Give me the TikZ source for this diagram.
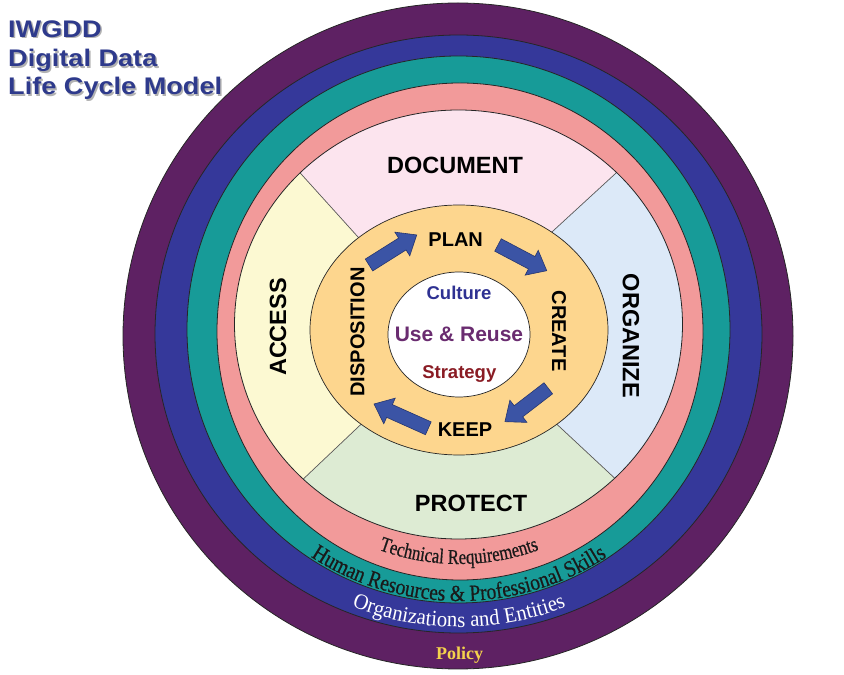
\documentclass[tikz,border=0pt]{standalone}
\usepackage{fontspec}
\setmainfont{Liberation Serif}
\setsansfont{Liberation Sans}
\newfontfamily\ringA[FakeStretch=0.8,FakeBold=0.6]{Liberation Serif}
\newfontfamily\ringB[FakeStretch=0.85,FakeBold=0.6]{Liberation Serif}
\newfontfamily\ringC[FakeStretch=0.94]{Liberation Serif}
\usetikzlibrary{decorations.text}
\definecolor{purpleband}{HTML}{5E2163}
\definecolor{blueband}{HTML}{35389A}
\definecolor{tealband}{HTML}{179B98}
\definecolor{pinkband}{HTML}{F29A9A}
\definecolor{docfill}{HTML}{FCE4EE}
\definecolor{orgfill}{HTML}{DCE9F8}
\definecolor{protfill}{HTML}{DDEBD3}
\definecolor{accfill}{HTML}{FCF9D2}
\definecolor{coreorange}{HTML}{FDD68E}
\definecolor{arrowblue}{HTML}{3B54A5}
\definecolor{arrowedge}{HTML}{26366F}
\definecolor{titleblue}{HTML}{2E3A8C}
\definecolor{culturec}{HTML}{2E3192}
\definecolor{reusec}{HTML}{6A2C70}
\definecolor{strategyc}{HTML}{8A1C24}
\definecolor{policyyellow}{HTML}{F4D24C}
\definecolor{ringtext}{HTML}{1A1A1A}
\newcommand{\techfont}{\color{ringtext}\ringA\fontsize{21}{21}\selectfont}
\newcommand{\hrfont}{\color{ringtext}\ringB\fontsize{23}{23}\selectfont}
\newcommand{\orgfont}{\color{white}\ringC\fontsize{22}{22}\selectfont}
\newcommand{\barrow}[3]{\draw[arrowbody, shift={(#1)}, rotate=#2] (0,-7) -- ({#3-17},-7) -- ({#3-17},-14) -- (#3,0) -- ({#3-17},14) -- ({#3-17},7) -- (0,7) -- cycle;}
\begin{document}
\begin{tikzpicture}[x=1pt,y=1pt,
  ring/.style={draw=black!85, line width=0.8pt},
  quad/.style={font=\sffamily\bfseries\fontsize{23.5}{24}\selectfont, text=black, inner sep=0pt},
  stage/.style={font=\sffamily\bfseries\fontsize{20}{20}\selectfont, text=black, inner sep=0pt},
  core/.style={font=\sffamily\bfseries\fontsize{18.5}{19}\selectfont, inner sep=0pt},
  titletext/.style={font=\sffamily\bfseries\fontsize{24}{24}\selectfont, text=titleblue, anchor=base west, inner sep=0pt},
  titleshadow/.style={titletext, text=black!30},
  arrowbody/.style={fill=arrowblue, draw=arrowedge, line width=0.6pt, line join=miter},
  divider/.style={draw=black!65, line width=0.7pt}
]
\useasboundingbox (0,0) rectangle (844,675);

% rings
\filldraw[ring, fill=purpleband] (458,339) ellipse [x radius=335, y radius=333];
\filldraw[ring, fill=blueband] (458.5,341) ellipse [x radius=303.5, y radius=299];
\filldraw[ring, fill=tealband] (458.5,345.5) ellipse [x radius=271.5, y radius=273.5];
\filldraw[ring, fill=pinkband] (460,343.5) ellipse [x radius=243, y radius=248.5];

% quadrants
\coordinate (tli) at (414,376);  \coordinate (tlf) at (134,686);
\coordinate (tri) at (491,387);  \coordinate (trf) at (801,672);
\coordinate (bri) at (504,300);  \coordinate (brf) at (799,25);
\coordinate (bli) at (413,300);  \coordinate (blf) at (123,25);
\begin{scope}
  \clip (458.5,350.5) ellipse [x radius=224, y radius=214.5];
  \fill[docfill] (tli) -- (tlf) -- (trf) -- (tri) -- cycle;
  \fill[orgfill] (tri) -- (trf) -- (brf) -- (bri) -- cycle;
  \fill[protfill] (bri) -- (brf) -- (blf) -- (bli) -- cycle;
  \fill[accfill] (bli) -- (blf) -- (tlf) -- (tli) -- cycle;
  \draw[divider] (tli) -- (tlf);
  \draw[divider] (tri) -- (trf);
  \draw[divider] (bri) -- (brf);
  \draw[divider] (bli) -- (blf);
\end{scope}
\draw[ring] (458.5,350.5) ellipse [x radius=224, y radius=214.5];

% core
\filldraw[ring, line width=0.7pt, fill=coreorange] (459,345) ellipse [x radius=149, y radius=125];
\filldraw[ring, line width=0.7pt, fill=white] (459,340.5) ellipse [x radius=71, y radius=62.5];

% arrows
\barrow{369,410}{32.2}{56.4}
\barrow{498,430}{-27.8}{55.1}
\barrow{548.3,286.7}{217.6}{54.7}
\barrow{428.3,246.7}{155.9}{59.5}

% quadrant labels
\node[quad] (document) at (455,510) {DOCUMENT};
\node[quad, rotate=90] (access) at (278,348) {ACCESS};
\node[quad, rotate=-90] (organize) at (631,339) {ORGANIZE};
\node[quad] (protect) at (471,172) {PROTECT};

% stages
\node[stage] (plan) at (455.7,435) {PLAN};
\node[stage, rotate=-90] (create) at (559,344) {CREATE};
\node[stage] (keep) at (465,245) {KEEP};
\node[stage, rotate=90] (disposition) at (357.5,343) {DISPOSITION};

% centre
\node[core, text=culturec] (culture) at (459,381.7) {Culture};
\node[core, font=\sffamily\bfseries\fontsize{21}{21}\selectfont, text=reusec] (reuse) at (459,340.7) {Use \& Reuse};
\node[core, text=strategyc, anchor=base] (strategy) at (459.3,296.7) {Strategy};

% ring texts
\path[decorate, decoration={text along path, text align=center, text={|\techfont|Technical Requirements}}]
  (459,344) ++(220:233) arc[start angle=220, end angle=320, radius=233];
\path[decorate, decoration={text along path, text align=center, text={|\hrfont|Human Resources {\&} Professional Skills}}]
  (459,344) ++(200:270) arc[start angle=200, end angle=340, radius=270];
\path[decorate, decoration={text along path, text align=center, text={|\orgfont|Organizations and Entities}}]
  (459,344) ++(220:296) arc[start angle=220, end angle=320, radius=296];
\node[font=\rmfamily\bfseries\fontsize{18}{18}\selectfont, text=policyyellow, anchor=base, inner sep=0pt] (policy) at (459.7,15) {Policy};

% title
\node[titleshadow] (t1s) at (9.5,636.2) {\scalebox{1.13}[1]{IWGDD}};
\node[titleshadow] (t2s) at (9.5,606.5) {\scalebox{1.13}[1]{Digital Data}};
\node[titleshadow] (t3s) at (9.5,578.5) {\scalebox{1.13}[1]{Life Cycle Model}};
\node[titletext] (t1) at (8,637.7) {\scalebox{1.13}[1]{IWGDD}};
\node[titletext] (t2) at (8,608) {\scalebox{1.13}[1]{Digital Data}};
\node[titletext] (t3) at (8,580) {\scalebox{1.13}[1]{Life Cycle Model}};
\end{tikzpicture}
\end{document}
